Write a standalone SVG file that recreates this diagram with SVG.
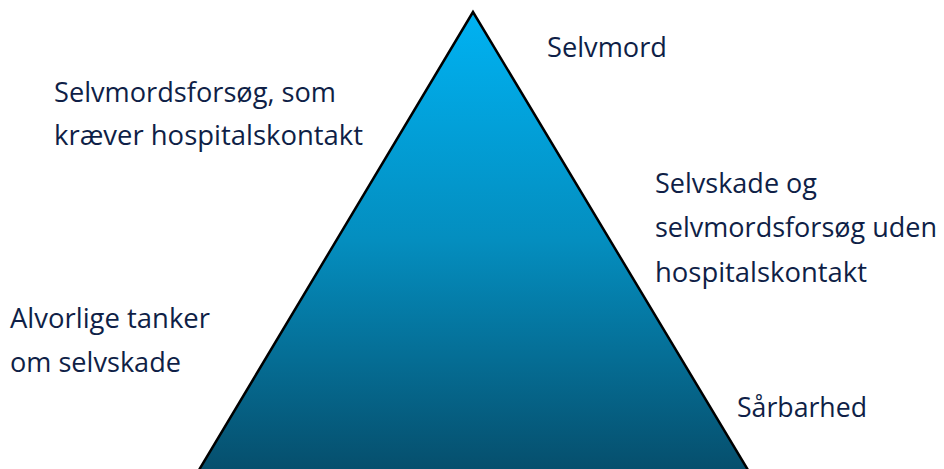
<svg xmlns="http://www.w3.org/2000/svg" width="944" height="469" viewBox="0 0 944 469">
<defs>
<linearGradient id="g" x1="0" y1="12" x2="0" y2="469" gradientUnits="userSpaceOnUse">
<stop offset="0" stop-color="#00B2F2"/>
<stop offset="0.5" stop-color="#048EBF"/>
<stop offset="1" stop-color="#064F6D"/>
</linearGradient>
<style>
.t{font-family:"Open Sans","Liberation Sans",sans-serif;font-size:28px;fill:#0F1F47;}
.s{font-size:26.5px;}
</style>
</defs>
<rect width="944" height="469" fill="#FFFFFF"/>
<g id="pyramid">
<polygon points="473,12 193,480 754,480" fill="url(#g)" stroke="#000000" stroke-width="2.5" stroke-linejoin="miter"/>
</g>
<g id="label-selvmord">
<text class="t" x="547" y="57" textLength="120" lengthAdjust="spacingAndGlyphs">Selvmord</text>
</g>
<g id="label-hospital">
<text class="t" x="54" y="102" textLength="282" lengthAdjust="spacingAndGlyphs">Selvmordsforsøg, som</text>
<text class="t" x="54" y="145" textLength="309" lengthAdjust="spacingAndGlyphs">kræver hospitalskontakt</text>
</g>
<g id="label-selvskade">
<text class="t" x="655" y="193" textLength="162" lengthAdjust="spacingAndGlyphs">Selvskade og</text>
<text class="t s" x="655" y="237" textLength="282" lengthAdjust="spacingAndGlyphs">selvmordsforsøg uden</text>
<text class="t" x="655" y="282" textLength="212" lengthAdjust="spacingAndGlyphs">hospitalskontakt</text>
</g>
<g id="label-tanker">
<text class="t" x="10" y="328" textLength="200" lengthAdjust="spacingAndGlyphs">Alvorlige tanker</text>
<text class="t" x="10" y="372" textLength="171" lengthAdjust="spacingAndGlyphs">om selvskade</text>
</g>
<g id="label-saarbarhed">
<text class="t" x="737" y="417" textLength="130" lengthAdjust="spacingAndGlyphs">Sårbarhed</text>
</g>
</svg>
